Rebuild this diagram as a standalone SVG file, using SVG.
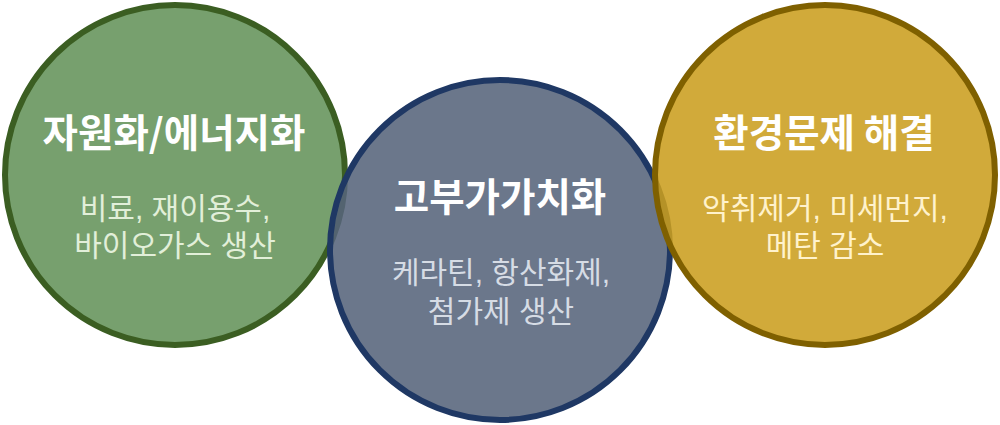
<svg xmlns="http://www.w3.org/2000/svg" width="1000" height="425" viewBox="0 0 1000 425">
<style>
.c{stroke-width:6;fill-opacity:0.88}
.t{font-family:"Noto Sans CJK KR","Noto Sans",sans-serif;font-weight:700;font-size:38.5px;fill:#ffffff;text-anchor:middle}
.s{font-family:"Liberation Sans","Noto Sans CJK KR",sans-serif;font-weight:400;font-size:30px;text-anchor:middle}
</style>
<rect width="1000" height="425" fill="#ffffff"/>
<g id="node-left">
<circle class="c" cx="175" cy="175" r="170" fill="#64935A" stroke="#3B5E22"/>
<text class="t" x="174" y="147">자원화/에너지화</text>
<text class="s" x="175" y="219" fill="#E2EFD9">비료, 재이용수,</text>
<text class="s" x="175" y="256" fill="#E2EFD9">바이오가스 생산</text>
</g>
<g id="node-middle">
<circle class="c" cx="500" cy="250" r="170" fill="#57647B" stroke="#1F3864"/>
<text class="t" x="500" y="211">고부가가치화</text>
<text class="s" x="501" y="283" fill="#D6DCE5">케라틴, 항산화제,</text>
<text class="s" x="501" y="322" fill="#D6DCE5">첨가제 생산</text>
</g>
<g id="node-right">
<circle class="c" cx="825" cy="175" r="170" fill="#CB9E1F" stroke="#7F6000"/>
<text class="t" x="824" y="147">환경문제 해결</text>
<text class="s" x="825" y="219" fill="#FFF2CC">악취제거, 미세먼지,</text>
<text class="s" x="825" y="256" fill="#FFF2CC">메탄 감소</text>
</g>
<g id="connectors"/>
</svg>
